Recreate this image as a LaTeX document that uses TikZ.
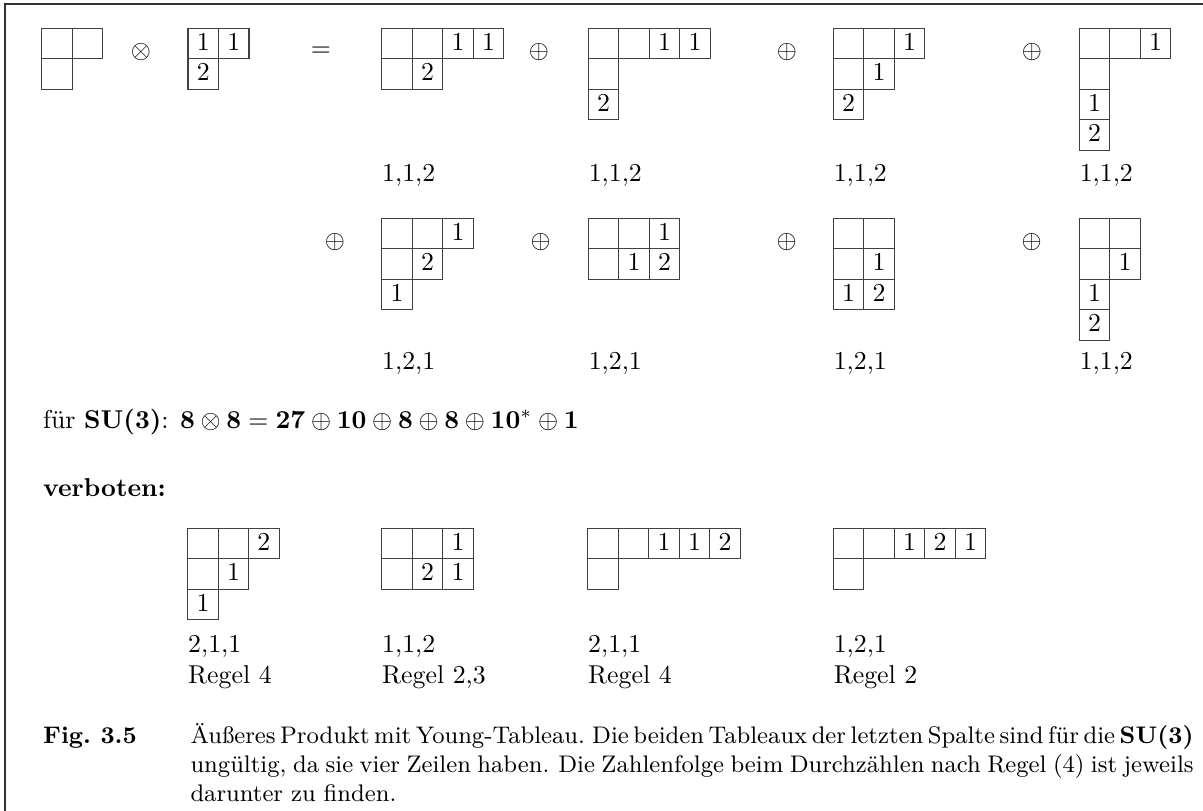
\documentclass[tikz,border=0pt]{standalone}
\tikzset{
  frameline/.style={draw=black!80, line width=0.6pt},
  cellline/.style={draw=black!75, line width=0.5pt},
  digit/.style={anchor=base, inner sep=0pt},
  lbl/.style={anchor=base west, inner sep=0pt},
  opsym/.style={inner sep=0pt}
}
\newcommand\tabl[5]{%
  \begin{scope}[shift={(#1,#2)}]
    \foreach \c/\r in {#3} {\draw[cellline] (\c*30.5,\r*30.5) rectangle ++(30.5,30.5);}
    \foreach \c/\r/\t [count=\k] in {#4} {\node[digit] (#5\k) at (\c*30.5+15.25,\r*30.5+22) {\t};}
  \end{scope}}
\begin{document}
\begin{tikzpicture}[x=0.3876pt,y=-0.3876pt]
\useasboundingbox (0,0) rectangle (1203,811);
\draw[frameline] (5,811) -- (5,4) -- (1203,4);
% row 1
\begin{scope}[shift={(41.7,28.3)}]
  \foreach \c/\r in {0/0,1/0,0/1} {\draw[cellline] (\c*30.5,\r*30.5) rectangle ++(30.5,30.5);}
\end{scope}
\node[opsym] (otimes) at (141,52) {$\otimes$};
\tabl{188}{28.3}{0/0,1/0,0/1}{0/0/1,1/0/1,0/1/2}{t}
\node[opsym] (eq) at (321,52) {$=$};
\tabl{381.7}{28.3}{0/0,1/0,2/0,3/0,0/1,1/1}{2/0/1,3/0/1,1/1/2}{aa}
\node[opsym] (p1) at (539,52) {$\oplus$};
\tabl{588.3}{28.3}{0/0,1/0,2/0,3/0,0/1,0/2}{2/0/1,3/0/1,0/2/2}{ab}
\node[opsym] (p2) at (787,52) {$\oplus$};
\tabl{833.3}{28.3}{0/0,1/0,2/0,0/1,1/1,0/2}{2/0/1,1/1/1,0/2/2}{ac}
\node[opsym] (p3) at (1032,52) {$\oplus$};
\tabl{1079.3}{28.3}{0/0,1/0,2/0,0/1,0/2,0/3}{2/0/1,0/2/1,0/3/2}{ad}
\node[lbl] (la1) at (381.7,182) {1,1,2};
\node[lbl] (la2) at (588.3,182) {1,1,2};
\node[lbl] (la3) at (833.3,182) {1,1,2};
\node[lbl] (la4) at (1079.3,182) {1,1,2};
% row 2
\node[opsym] (q0) at (335,241.7) {$\oplus$};
\tabl{381.7}{218.3}{0/0,1/0,2/0,0/1,1/1,0/2}{2/0/1,1/1/2,0/2/1}{ba}
\node[opsym] (q1) at (540.7,241.7) {$\oplus$};
\tabl{588.3}{218.3}{0/0,1/0,2/0,0/1,1/1,2/1}{2/0/1,1/1/1,2/1/2}{bb}
\node[opsym] (q2) at (786.7,241.7) {$\oplus$};
\tabl{833.3}{218.3}{0/0,1/0,0/1,1/1,0/2,1/2}{1/1/1,0/2/1,1/2/2}{bc}
\node[opsym] (q3) at (1031.7,241.7) {$\oplus$};
\tabl{1079.3}{218.3}{0/0,1/0,0/1,1/1,0/2,0/3}{1/1/1,0/2/1,0/3/2}{bd}
\node[lbl] (lb1) at (381.7,370) {1,2,1};
\node[lbl] (lb2) at (588.3,370) {1,2,1};
\node[lbl] (lb3) at (833.3,370) {1,2,1};
\node[lbl] (lb4) at (1079.3,370) {1,1,2};
% SU(3) line
\node[lbl] (su3) at (42.7,429) {für \textbf{SU(3)}: $\mathbf{8}\otimes\mathbf{8}=\mathbf{27}\oplus\mathbf{10}\oplus\mathbf{8}\oplus\mathbf{8}\oplus\mathbf{10}^*\oplus\mathbf{1}$};
\node[lbl] (verb) at (42.7,497) {\textbf{verboten:}};
% forbidden
\tabl{187.7}{528.3}{0/0,1/0,2/0,0/1,1/1,0/2}{2/0/2,1/1/1,0/2/1}{ca}
\tabl{381.7}{528.3}{0/0,1/0,2/0,0/1,1/1,2/1}{2/0/1,1/1/2,2/1/1}{cb}
\tabl{587.7}{528.3}{0/0,1/0,2/0,3/0,4/0,0/1}{2/0/1,3/0/1,4/0/2}{cc}
\tabl{833.3}{528.3}{0/0,1/0,2/0,3/0,4/0,0/1}{2/0/1,3/0/2,4/0/1}{cd}
\node[lbl] (lc1) at (187.7,653) {2,1,1};
\node[lbl] (lc2) at (381.7,653) {1,1,2};
\node[lbl] (lc3) at (587.7,653) {2,1,1};
\node[lbl] (lc4) at (833.3,653) {1,2,1};
\node[lbl] (rc1) at (187.7,684) {Regel 4};
\node[lbl] (rc2) at (381.7,684) {Regel 2,3};
\node[lbl] (rc3) at (587.7,684) {Regel 4};
\node[lbl] (rc4) at (833.3,684) {Regel 2};
% caption
\node[lbl] (figlbl) at (42.7,744) {\fontsize{9.3}{11.2}\selectfont\textbf{Fig.\ 3.5}};
\node[lbl] (cap) at (190,744) {\parbox[t]{388.8pt}{\fontsize{9.3}{11.2}\selectfont
  \spaceskip=0.333em plus 0.3em minus 0.16em \xspaceskip=0.44em plus 0.3em minus 0.16em
  Äußeres Produkt mit Young-Tableau. Die beiden Tableaux der letzten Spalte sind für die \textbf{SU(3)}\linebreak ungültig, da sie vier Zeilen haben. Die Zahlenfolge beim Durchzählen nach Regel (4) ist jeweils\linebreak darunter zu finden.}};
\end{tikzpicture}
\end{document}
